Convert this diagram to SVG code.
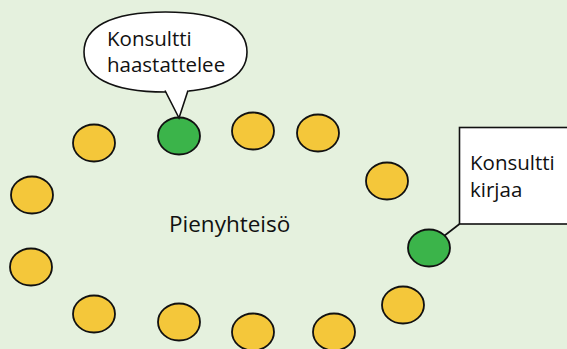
<svg xmlns="http://www.w3.org/2000/svg" width="567" height="349" viewBox="0 0 567 349">
  <style>
    .seat { stroke: #111; stroke-width: 1.8; }
    .yellow { fill: #F4C73A; }
    .green { fill: #3BB44A; }
    .label { font-family: "Open Sans", "Noto Sans", "Liberation Sans", sans-serif; font-size: 20.5px; fill: #111; }
    .callout { fill: #fff; stroke: #111; stroke-width: 1.6; }
  </style>
  <rect width="567" height="349" fill="#E5F1DE"/>

  <!-- connectors -->
  <g id="connectors">
    <line x1="459.5" y1="224" x2="444" y2="236" stroke="#111" stroke-width="1.6"/>
  </g>

  <!-- ring of members around the community -->
  <g id="seat-1"><ellipse class="seat yellow" cx="94" cy="143" rx="21" ry="18.5"/></g>
  <g id="seat-2"><ellipse class="seat green" cx="179" cy="136" rx="21" ry="18.5"/></g>
  <g id="seat-3"><ellipse class="seat yellow" cx="253" cy="131" rx="21" ry="18.5"/></g>
  <g id="seat-4"><ellipse class="seat yellow" cx="318" cy="133" rx="21" ry="18.5"/></g>
  <g id="seat-5"><ellipse class="seat yellow" cx="387" cy="181" rx="21" ry="18.5"/></g>
  <g id="seat-6"><ellipse class="seat green" cx="429" cy="248" rx="21" ry="18.5"/></g>
  <g id="seat-7"><ellipse class="seat yellow" cx="403" cy="305" rx="21" ry="18.5"/></g>
  <g id="seat-8"><ellipse class="seat yellow" cx="334" cy="332" rx="21" ry="18.5"/></g>
  <g id="seat-9"><ellipse class="seat yellow" cx="253" cy="332" rx="21" ry="18.5"/></g>
  <g id="seat-10"><ellipse class="seat yellow" cx="179" cy="322" rx="21" ry="18.5"/></g>
  <g id="seat-11"><ellipse class="seat yellow" cx="94" cy="314" rx="21" ry="18.5"/></g>
  <g id="seat-12"><ellipse class="seat yellow" cx="31" cy="267" rx="21" ry="18.5"/></g>
  <g id="seat-13"><ellipse class="seat yellow" cx="32" cy="195" rx="21" ry="18.5"/></g>

  <!-- community label -->
  <g id="community">
    <text class="label" x="169" y="232" style="font-size:22.5px">Pienyhteisö</text>
  </g>

  <!-- speech bubble: interviewer -->
  <g id="bubble-interview">
    <path class="callout" d="M165.5 12 C222 12 247 28 247 52 C247 76 222 92 165.5 92 C109 92 84 76 84 52 C84 28 109 12 165.5 12 Z"/>
    <polygon points="163,86 179,118 190,86" fill="#fff"/>
    <polyline points="165,90.5 179,118 188,90.5" fill="none" stroke="#111" stroke-width="1.6" stroke-linejoin="miter"/>
    <text class="label" x="107" y="46">Konsultti</text>
    <text class="label" x="107" y="72">haastattelee</text>
  </g>

  <!-- note box: recorder -->
  <g id="box-record">
    <rect class="callout" x="459.5" y="127.5" width="120" height="96.5"/>
    <text class="label" x="470" y="170">Konsultti</text>
    <text class="label" x="470" y="197">kirjaa</text>
  </g>
</svg>
